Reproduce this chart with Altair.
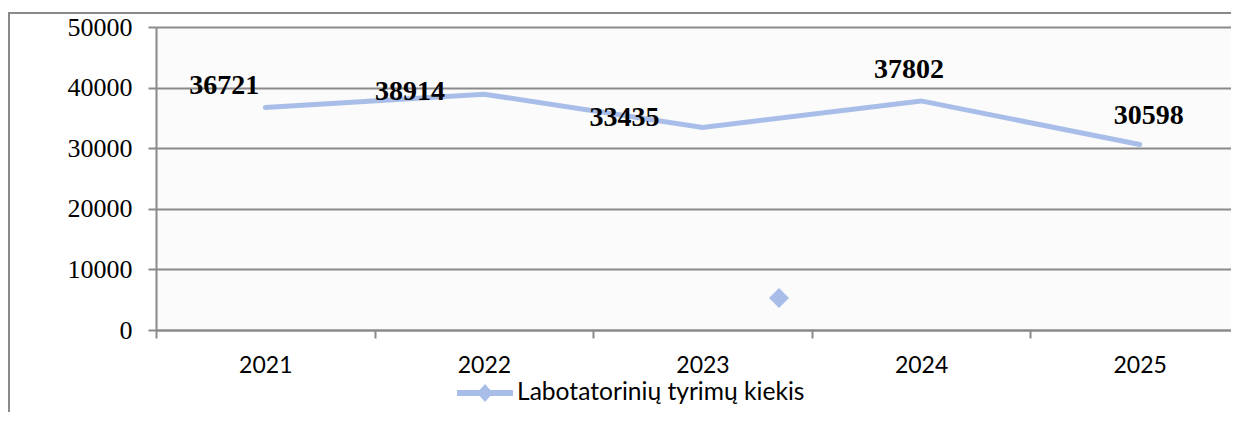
import altair as alt
import pandas as pd

# ---- data ----
years = [2021, 2022, 2023, 2024, 2025]
values = [36721, 38914, 33435, 37802, 30598]
series_name = "Labotatorinių tyrimų kiekis"
y_ticks = [0, 10000, 20000, 30000, 40000, 50000]
stray_year = [2023.35]
stray_value = [5300]

# ---- layout / style ----
BAND = 218.6
W = 1075
H = 303
LINE = "#a8bee8"
GRID = "#8a8a8a"

df = pd.DataFrame({"year": years, "value": values, "label": [str(v) for v in values]})
df_stray = pd.DataFrame({"year": stray_year, "value": stray_value})
df_one = pd.DataFrame({"name": [series_name]})

x_scale = alt.Scale(domain=[2020.5, 2020.5 + W / BAND], nice=False, zero=False)
y_scale = alt.Scale(domain=[0, 50000], nice=False, zero=True)

x_enc = alt.X(
    "year:Q",
    scale=x_scale,
    axis=alt.Axis(
        values=[y - 0.5 for y in years],
        labelExpr="datum.value + 0.5",
        labelOffset=BAND / 2,
        labelFlush=False,
        labelBound=False,
        grid=False,
        tickSize=8,
        tickWidth=2,
        tickColor=GRID,
        domainColor=GRID,
        domainWidth=2,
        labelFont="Lato",
        labelFontSize=23,
        labelColor="black",
        labelPadding=16,
        title=None,
    ),
)
y_enc = alt.Y(
    "value:Q",
    scale=y_scale,
    axis=alt.Axis(
        values=y_ticks,
        format="d",
        grid=True,
        gridColor=GRID,
        gridWidth=2,
        tickSize=8,
        tickWidth=2,
        tickColor=GRID,
        domainColor=GRID,
        domainWidth=2,
        labelFont="Liberation Serif",
        labelFontSize=26,
        labelColor="black",
        labelPadding=16,
        title=None,
    ),
)

frame_left = alt.Chart(df_one).mark_rule(stroke=GRID, strokeWidth=2).encode(
    x=alt.value(-147), y=alt.value(-14), y2=alt.value(700)
)
frame_top = alt.Chart(df_one).mark_rule(stroke=GRID, strokeWidth=2).encode(
    x=alt.value(-148), x2=alt.value(W + 20), y=alt.value(-14)
)

line = alt.Chart(df).mark_line(color=LINE, strokeWidth=5, strokeCap="round").encode(
    x=x_enc, y=y_enc
)

stray = alt.Chart(df_stray).mark_point(
    shape="diamond", filled=True, size=400, color=LINE, opacity=1
).encode(x=x_enc, y=y_enc)

offsets = {2021: (-41, -21), 2022: (-74, -2), 2023: (-78, -9), 2024: (-12, -31), 2025: (9, -29)}
label_layers = []
for yr, (dx, dy) in offsets.items():
    label_layers.append(
        alt.Chart(df)
        .transform_filter(alt.datum.year == yr)
        .mark_text(
            dx=dx, dy=dy, font="Liberation Serif", fontWeight="bold", fontSize=28,
            color="black", align="center", baseline="middle",
        )
        .encode(x=x_enc, y=y_enc, text="label:N")
    )

legend_path = (
    "M-1,-0.107L-0.19,-0.107L0,-0.32L0.19,-0.107L1,-0.107L1,0.107"
    "L0.19,0.107L0,0.32L-0.19,0.107L-1,0.107Z"
)
legend_symbol = alt.Chart(df_one).mark_point(
    shape=legend_path, filled=True, size=3136, color=LINE, opacity=1, strokeWidth=0
).encode(x=alt.value(329), y=alt.value(366))
legend_text = alt.Chart(df_one).mark_text(
    font="Lato", fontSize=24.6, color="black", align="left", baseline="middle"
).encode(x=alt.value(361), y=alt.value(366), text="name:N")

chart = (
    alt.layer(frame_left, frame_top, line, stray, *label_layers, legend_symbol, legend_text)
    .properties(
        width=W,
        height=H,
        autosize=alt.AutoSizeParams(type="none"),
        padding={"left": 148, "top": 19, "right": 0, "bottom": 82},
    )
    .configure(background="white")
    .configure_view(fill="#fbfbfb", stroke=None)
)

chart.save("out.html", embed_options={"renderer": "svg", "actions": False})
